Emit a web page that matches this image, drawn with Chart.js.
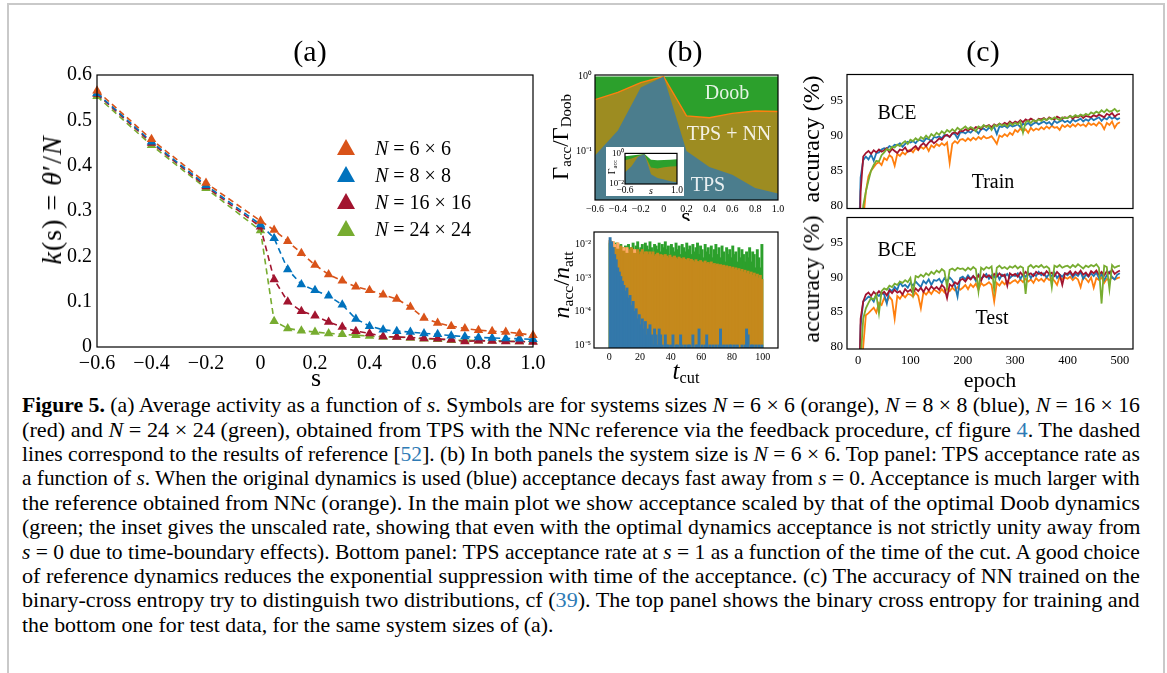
<!DOCTYPE html>
<html>
<head>
<meta charset="utf-8">
<script src="https://cdn.jsdelivr.net/npm/chart.js@4.4.1/dist/chart.umd.min.js"></script>
<style>
body { margin:0; background:#fff; width:1167px; height:673px; overflow:hidden; position:relative; font-family:'Liberation Serif', serif; }
#frame { position:absolute; left:7px; top:3px; width:1154px; height:700px; border:2px solid #c9c9c9; }
canvas { position:absolute; }
.t { position:absolute; white-space:nowrap; color:#000; line-height:1; transform:translate(-50%,-50%); }
.rot { transform:translate(-50%,-50%) rotate(-90deg); }
.w { color:rgba(255,255,255,0.88); }
.tri { position:absolute; width:0; height:0; border-left:9px solid transparent; border-right:9px solid transparent; border-bottom:16px solid; }
.leg { position:absolute; left:375px; font-size:20px; line-height:1; transform:translateY(-50%); white-space:nowrap; }
.cap { position:absolute; left:22px; font-size:21px; line-height:24px; white-space:nowrap; transform-origin:0 50%; }
.cap a { color:#2e7bb5; text-decoration:none; }
sub { font-size:65%; vertical-align:-0.25em; line-height:0; }
</style>
</head>
<body>
<div id="frame"></div>

<canvas id="chartA"></canvas>
<canvas id="chartB1"></canvas>
<div class="t" style="left:686px;top:216px;font-size:24px;">s</div>
<div style="position:absolute;left:594px;top:221px;width:185px;height:8px;background:#fff;"></div>
<canvas id="chartB2"></canvas>
<div style="position:absolute;left:606px;top:147px;width:78px;height:49px;background:#fff;"></div>
<canvas id="chartInset"></canvas>
<canvas id="chartC1"></canvas>
<canvas id="chartC2"></canvas>

<!-- panel titles and axis labels -->
<div class="t" style="left:310px;top:51px;font-size:30px;">(a)</div>
<div class="t" style="left:685px;top:51px;font-size:30px;">(b)</div>
<div class="t" style="left:983px;top:51px;font-size:30px;">(c)</div>

<div class="t rot" style="left:52px;top:200px;font-size:28px;letter-spacing:1px;"><i>k</i>(s) = <i>θ</i>′/<i>N</i></div>
<div class="t" style="left:316px;top:378px;font-size:26px;">s</div>

<div class="tri" style="left:337px;top:139px;border-bottom-color:#D95319;"></div>
<div class="tri" style="left:337px;top:166px;border-bottom-color:#0072BD;"></div>
<div class="tri" style="left:337px;top:193px;border-bottom-color:#A2142F;"></div>
<div class="tri" style="left:337px;top:220px;border-bottom-color:#77AC30;"></div>
<div class="leg" style="top:148px;"><i>N</i> = 6 × 6</div>
<div class="leg" style="top:175px;"><i>N</i> = 8 × 8</div>
<div class="leg" style="top:202px;"><i>N</i> = 16 × 16</div>
<div class="leg" style="top:229px;"><i>N</i> = 24 × 24</div>

<div class="t rot" style="left:560px;top:137px;font-size:23px;">Γ<sub>acc</sub>/Γ<sub>Doob</sub></div>
<div class="t w" style="left:727px;top:92px;font-size:20px;">Doob</div>
<div class="t w" style="left:729px;top:133px;font-size:20px;">TPS + NN</div>
<div class="t w" style="left:708px;top:184px;font-size:20px;">TPS</div>
<div class="t rot" style="left:612px;top:167px;font-size:10px;">Γ<sub>acc</sub></div>
<div class="t" style="left:651px;top:191px;font-size:10px;"><i>s</i></div>
<div class="t rot" style="left:561px;top:285px;font-size:24px;"><i>n</i><sub>acc</sub>/<i>n</i><sub>att</sub></div>
<div class="t" style="left:686px;top:370px;font-size:25px;"><i>t</i><sub>cut</sub></div>

<div class="t rot" style="left:811px;top:139px;font-size:24px;">accuracy (%)</div>
<div class="t rot" style="left:811px;top:279px;font-size:24px;">accuracy (%)</div>
<div class="t" style="left:897px;top:112px;font-size:20px;">BCE</div>
<div class="t" style="left:993px;top:181px;font-size:20px;">Train</div>
<div class="t" style="left:897px;top:249px;font-size:20px;">BCE</div>
<div class="t" style="left:992px;top:317px;font-size:20px;">Test</div>
<div class="t" style="left:990px;top:380px;font-size:22px;">epoch</div>

<!-- caption, one div per printed line -->
<div class="cap" style="top:393px;"><b>Figure 5.</b> (a) Average activity as a function of <i>s</i>. Symbols are for systems sizes <i>N</i> = 6 × 6 (orange), <i>N</i> = 8 × 8 (blue), <i>N</i> = 16 × 16</div>
<div class="cap" style="top:418px;">(red) and <i>N</i> = 24 × 24 (green), obtained from TPS with the NNc reference via the feedback procedure, cf figure <a>4</a>. The dashed</div>
<div class="cap" style="top:442px;">lines correspond to the results of reference [<a>52</a>]. (b) In both panels the system size is <i>N</i> = 6 × 6. Top panel: TPS acceptance rate as</div>
<div class="cap" style="top:466px;">a function of <i>s</i>. When the original dynamics is used (blue) acceptance decays fast away from <i>s</i> = 0. Acceptance is much larger with</div>
<div class="cap" style="top:491px;">the reference obtained from NNc (orange). In the main plot we show acceptance scaled by that of the optimal Doob dynamics</div>
<div class="cap" style="top:515px;">(green; the inset gives the unscaled rate, showing that even with the optimal dynamics acceptance is not strictly unity away from</div>
<div class="cap" style="top:540px;"><i>s</i> = 0 due to time-boundary effects). Bottom panel: TPS acceptance rate at <i>s</i> = 1 as a function of the time of the cut. A good choice</div>
<div class="cap" style="top:564px;">of reference dynamics reduces the exponential suppression with time of the acceptance. (c) The accuracy of NN trained on the</div>
<div class="cap" style="top:588px;">binary-cross entropy try to distinguish two distributions, cf (<a>39</a>). The top panel shows the binary cross entropy for training and</div>
<div class="cap last" style="top:613px;">the bottom one for test data, for the same system sizes of (a).</div>

<script>
// ---- panel (a): activity k(s) ----
const S_A = [-0.6,-0.4,-0.2,0,0.05,0.1,0.15,0.2,0.25,0.3,0.35,0.4,0.45,0.5,0.55,0.6,0.65,0.7,0.75,0.8,0.85,0.9,0.95,1.0];
const K_6 = [0.565,0.458,0.362,0.278,0.258,0.233,0.207,0.181,0.160,0.146,0.133,0.125,0.115,0.106,0.088,0.064,0.053,0.046,0.041,0.037,0.035,0.033,0.030,0.026];
const K_8 = [0.560,0.453,0.357,0.270,0.240,0.171,0.138,0.125,0.113,0.093,0.062,0.046,0.038,0.035,0.033,0.030,0.028,0.025,0.023,0.021,0.020,0.019,0.018,0.017];
const K_16 = [0.558,0.450,0.354,0.265,0.149,0.100,0.079,0.069,0.055,0.044,0.035,0.030,0.023,0.022,0.021,0.019,0.018,0.016,0.012,0.014,0.013,0.012,0.012,0.011];
const K_24 = [0.553,0.445,0.350,0.257,0.057,0.041,0.036,0.033,0.030,0.028,0.026,0.024,0.022,0.022,0.020,0.018,0.017,0.015,0.015,0.014,0.014,0.013,0.012,0.012];
const A_XTICKS = [-0.6,-0.4,-0.2,0,0.2,0.4,0.6,0.8,1.0];
const A_YTICKS = [0,0.1,0.2,0.3,0.4,0.5,0.6];

// ---- panel (b) top: acceptance ratio vs s ----
const S_B = [-0.6,-0.4,-0.2,0,0.2,0.4,0.6,0.8,1.0];
const R_DOOB = [1,1,1,1,1,1,1,1,1];
const R_NN = [0.49,0.615,0.83,1.0,0.296,0.28,0.32,0.345,0.34];
const R_TPS = [0.087,0.188,0.716,1.0,0.10,0.061,0.048,0.032,0.027];
// inset: unscaled acceptance
const G_DOOB = [0.72,0.80,0.90,1.0,0.42,0.38,0.40,0.42,0.44];
const G_NN = [0.38,0.50,0.75,1.0,0.125,0.11,0.13,0.145,0.15];
const G_TPS = [0.06,0.15,0.65,1.0,0.045,0.025,0.02,0.015,0.013];
const B_XTICKS = [-0.6,-0.4,-0.2,0,0.2,0.4,0.6,0.8,1.0];

// ---- panel (b) bottom: acceptance vs t_cut ----
const T_CUT = [0,1,2,3,4,5,6,7,8,9,10,11,12,13,14,15,16,17,18,19,20,21,22,23,24,25,26,27,28,29,
  30,31,32,33,34,35,36,37,38,39,40,41,42,43,44,45,46,47,48,49,50,51,52,53,54,55,56,57,58,59,
  60,61,62,63,64,65,66,67,68,69,70,71,72,73,74,75,76,77,78,79,80,81,82,83,84,85,86,87,88,89,
  90,91,92,93,94,95,96,97,98,99];
const H_DOOB = [
  0.011,0.012,0.010,0.009,0.011,0.008,0.009,0.010,0.008,0.007,
  0.009,0.006,0.010,0.007,0.008,0.011,0.006,0.009,0.012,0.007,
  0.008,0.010,0.006,0.011,0.009,0.007,0.012,0.008,0.006,0.010,
  0.009,0.007,0.011,0.006,0.010,0.008,0.012,0.007,0.009,0.005,
  0.010,0.008,0.006,0.011,0.007,0.009,0.005,0.010,0.008,0.006,
  0.011,0.007,0.009,0.005,0.010,0.006,0.008,0.011,0.005,0.009,
  0.007,0.004,0.010,0.006,0.008,0.005,0.009,0.004,0.007,0.010,
  0.005,0.008,0.004,0.009,0.006,0.003,0.008,0.005,0.007,0.004,
  0.009,0.005,0.006,0.003,0.008,0.004,0.007,0.005,0.003,0.006,
  0.004,0.008,0.003,0.006,0.005,0.002,0.007,0.004,0.002,0.010];
const H_NN = [
  0.013,0.011,0.012,0.010,0.009,0.011,0.008,0.009,0.007,0.008,
  0.007,0.008,0.006,0.007,0.008,0.006,0.007,0.006,0.007,0.005,
  0.006,0.007,0.005,0.006,0.006,0.005,0.006,0.005,0.006,0.0045,
  0.005,0.0055,0.0045,0.005,0.0048,0.0042,0.005,0.0045,0.004,0.0048,
  0.0042,0.0038,0.0045,0.004,0.0036,0.0042,0.0038,0.0035,0.004,0.0036,
  0.0034,0.0038,0.0032,0.0036,0.0033,0.003,0.0035,0.0031,0.0029,0.0033,
  0.003,0.0028,0.0032,0.0027,0.0029,0.0026,0.003,0.0025,0.0027,0.0024,
  0.0026,0.0023,0.0025,0.0022,0.0024,0.0021,0.0023,0.002,0.0022,0.0019,
  0.0021,0.0018,0.002,0.0017,0.0019,0.0016,0.0018,0.0015,0.0017,0.0014,
  0.0016,0.0013,0.0015,0.0012,0.0014,0.0011,0.0013,0.001,0.0012,0.0009];
const H_TPS = [
  0.016,0.012,0.008,0.005,0.0035,0.002,0.0015,0.0011,0.0008,0.0006,
  0.0004,0.0005,0.00025,0.0003,0.00015,0.0002,0.0001,0.00012,0.00006,0.00008,
  0.00004,0.00006,0.00003,0.00005,0.00002,0.00003,0.00004,0.00002,0.00001,0.00003,
  0.00002,0.00001,0.00003,0.00002,0.00001,null,0.00002,0.00001,0.00001,null,
  0.00001,0.00002,null,0.00001,0.00001,null,0.00002,0.00001,null,0.00001,
  null,0.00001,0.00001,null,0.00002,null,0.00001,0.00001,0.00003,null,
  0.00001,null,0.00001,0.00002,null,0.00001,null,0.00001,null,0.00001,
  null,0.00001,0.00003,null,0.00001,null,0.00001,null,0.00001,0.00001,
  null,0.00001,null,0.00001,null,null,0.00001,null,0.00001,0.00003,
  0.00002,null,0.00001,0.00001,null,0.00001,null,0.00001,null,0.00001];
const H_YTICKS = [1e-5,1e-4,1e-3,1e-2];
const H_XTICKS = [0,20,40,60,80,100];

// ---- panel (c): accuracy vs epoch ----
const EPOCHS = [0,5,10,15,20,25,30,35,40,45,50,55,60,65,70,75,80,85,90,95,
  100,105,110,115,120,125,130,135,140,145,150,155,160,165,170,175,180,185,190,195,
  200,205,210,215,220,225,230,235,240,245,250,255,260,265,270,275,280,285,290,295,
  300,305,310,315,320,325,330,335,340,345,350,355,360,365,370,375,380,385,390,395,
  400,405,410,415,420,425,430,435,440,445,450,455,460,465,470,475,480,485,490,495,500];
const TRAIN_8 = [
  70,84,86.5,87.0,86.6,87.3,86.4,87.5,87.6,88.0,
  88.2,88.1,88.5,88.3,88.7,88.6,88.9,88.4,88.8,89.1,
  89.0,89.2,88.9,89.4,89.3,89.1,89.6,89.5,89.2,89.8,
  89.7,89.9,89.6,90.1,90.0,89.8,90.3,90.2,89.6,90.4,
  90.5,90.3,90.6,90.4,90.8,90.7,90.3,90.9,91.0,90.7,
  91.1,91.0,91.2,90.2,91.3,91.2,91.4,91.1,91.5,91.3,
  91.4,91.6,91.2,91.7,91.5,91.8,91.4,91.7,91.9,91.6,
  91.8,92.0,91.7,91.9,91.5,92.1,91.8,92.0,92.2,91.9,
  92.1,91.8,92.3,92.0,92.2,92.4,92.0,92.3,92.1,92.5,
  92.2,92.4,92.6,92.1,92.5,92.3,92.7,92.4,92.6,92.3,92.5];
const TRAIN_16 = [
  65,82,87.0,87.5,87.8,87.4,87.9,87.6,88.0,87.7,
  87.9,88.2,87.6,88.1,87.8,87.5,88.0,87.9,88.3,87.7,
  87.8,88.2,88.5,88.0,88.6,88.9,88.5,89.0,89.3,88.9,
  89.2,89.6,89.4,89.9,90.1,89.8,90.3,90.5,90.2,90.7,
  90.6,90.9,90.7,91.0,90.8,91.2,91.1,90.9,91.4,91.3,
  91.5,91.2,91.6,91.4,91.7,91.5,91.8,91.6,92.0,91.7,
  92.0,91.8,92.2,91.9,92.3,92.1,92.4,92.2,92.0,92.4,
  92.3,92.5,92.2,92.6,92.4,92.3,92.7,92.5,92.4,92.6,
  92.5,92.8,92.4,92.7,92.6,92.9,92.5,92.8,92.7,92.6,
  92.9,92.7,93.0,92.8,92.6,93.1,92.9,93.2,92.7,93.0,93.1];
const TRAIN_24 = [
  60,72,80.0,82.0,83.6,85.0,85.8,86.4,86.3,87.2,
  87.6,88.1,87.9,88.4,88.3,88.7,88.5,88.9,89.2,88.8,
  89.4,89.2,89.6,89.3,89.8,89.5,90.0,89.6,90.2,89.9,
  90.4,90.1,90.6,90.3,90.8,90.5,90.9,90.6,91.1,90.8,
  91.0,91.3,90.9,91.2,91.0,90.6,91.3,91.1,91.5,91.2,
  91.4,90.8,91.5,91.3,91.7,91.4,91.6,91.3,91.8,91.5,
  91.8,91.6,92.0,90.4,91.9,92.1,91.8,92.2,92.0,92.3,
  92.1,92.4,92.2,92.5,92.3,92.6,92.4,92.2,92.6,92.5,
  92.5,92.8,92.6,92.9,92.7,93.0,92.8,93.1,92.9,93.3,
  93.1,93.4,93.2,93.6,93.3,93.7,93.4,93.5,93.8,93.4,93.6];
const TRAIN_6 = [
  60,70,78.0,82.0,84.2,85.0,85.5,86.0,86.2,85.8,
  86.8,86.5,87.2,86.9,85.7,87.4,87.1,87.6,87.3,87.8,
  88.0,87.6,88.2,87.9,88.4,88.1,88.5,87.8,88.6,88.3,
  88.8,88.5,88.9,88.6,89.0,86.1,88.8,89.2,88.9,89.4,
  89.5,89.2,89.6,89.3,89.7,89.4,89.8,89.5,89.9,89.6,
  89.7,89.9,89.4,88.8,90.0,89.8,90.2,89.9,90.4,90.1,
  90.8,90.5,91.0,90.6,90.9,90.4,91.1,90.7,91.0,90.8,
  91.2,90.9,91.3,91.0,91.4,91.1,91.2,90.8,91.5,91.2,
  91.5,91.2,91.6,91.3,91.7,91.4,91.6,91.3,91.8,91.5,
  91.7,91.4,91.9,91.6,90.9,91.8,91.5,92.0,91.1,91.7,91.9];
const TEST_8 = [
  70,83,86.5,86.8,87.2,87.0,86.5,87.6,87.3,87.8,
  87.5,86.2,88.3,88.0,88.6,88.2,89.3,88.7,88.9,88.5,
  89.2,88.8,89.4,89.0,88.6,89.5,89.1,89.7,88.9,89.6,
  89.5,89.8,89.2,89.9,89.4,90.0,89.6,88.8,87.2,89.9,
  90.1,89.7,90.3,89.8,90.2,89.5,90.4,89.9,90.1,90.5,
  89.8,90.3,90.0,90.6,89.7,90.4,90.1,90.5,89.9,90.3,
  90.2,90.6,89.8,90.4,90.1,90.7,89.9,90.5,90.2,90.8,
  90.3,90.6,90.0,90.5,90.2,90.7,89.9,90.4,90.1,90.6,
  90.3,90.7,90.0,90.5,90.2,90.8,89.8,90.4,90.1,90.6,
  90.2,90.7,89.9,90.5,89.6,90.3,90.8,90.0,89.7,90.4,90.6];
const TEST_16 = [
  65,84,86.5,87.5,87.8,87.3,87.9,87.5,88.0,87.6,
  87.9,87.4,88.1,87.7,88.2,87.8,88.0,87.5,88.3,87.9,
  88.2,87.7,88.4,88.0,88.5,87.9,88.6,88.1,88.7,88.3,
  88.6,88.2,88.9,88.5,87.0,89.0,88.7,89.3,89.0,89.6,
  89.8,89.4,90.0,89.7,90.2,89.8,90.3,89.5,90.4,90.0,
  90.3,89.9,90.5,90.1,90.6,90.2,90.4,88.8,90.6,90.3,
  90.5,90.1,90.7,90.3,90.8,90.4,90.6,90.2,90.8,90.5,
  90.7,90.3,90.9,90.5,90.7,90.2,90.8,90.4,88.9,90.6,
  90.5,90.9,90.3,90.8,90.5,91.0,90.4,90.7,90.2,90.9,
  90.6,91.0,90.4,90.8,90.3,90.9,90.6,91.1,90.5,90.8,91.0];
const TEST_24 = [
  60,78,84.0,85.5,86.3,87.0,86.8,87.5,84.8,88.0,
  88.4,88.2,88.8,88.6,89.1,88.9,89.4,89.2,89.6,89.3,
  89.9,87.6,90.2,90.0,90.4,90.1,90.6,90.3,90.8,90.5,
  91.0,90.7,91.2,90.9,88.6,91.1,91.3,91.0,91.4,91.2,
  91.3,91.0,91.4,91.1,91.5,91.2,88.0,91.4,91.1,91.5,
  91.3,91.6,88.2,91.4,91.7,91.3,91.5,91.2,91.6,91.4,
  91.7,91.3,91.6,91.4,87.6,91.5,91.8,91.4,91.7,91.5,
  91.8,91.4,91.6,91.3,88.6,91.7,91.5,91.8,91.4,91.6,
  91.7,91.4,91.8,91.5,91.9,91.6,91.3,91.7,91.5,91.8,
  91.6,91.9,91.4,86.2,91.7,91.5,88.3,91.8,91.4,91.6,91.7];
const TEST_6 = [
  60,72,80.0,84.5,84.8,85.2,85.6,84.9,86.3,86.0,
  87.0,86.4,87.2,86.7,84.0,87.3,86.9,87.5,87.1,87.6,
  87.5,87.2,87.8,87.3,85.5,87.9,87.5,88.0,87.6,88.2,
  88.0,87.7,88.3,87.8,88.4,88.0,88.5,88.1,88.6,88.2,
  88.5,88.9,88.3,89.0,88.6,89.1,88.2,89.2,88.8,89.0,
  89.3,88.9,86.5,89.2,88.8,89.4,89.0,89.5,89.1,89.4,
  89.6,89.2,89.7,89.3,89.8,89.4,89.7,89.2,89.9,89.5,
  89.8,89.4,90.0,89.6,89.9,89.5,88.9,90.1,89.7,90.0,
  89.8,90.1,89.6,90.0,89.7,88.6,90.1,89.8,89.3,90.0,
  88.5,89.9,89.6,90.0,89.2,89.8,89.5,90.1,89.7,89.9,90.0];
const C_XTICKS = [0,100,200,300,400,500];
const C_YTICKS = [80,85,90,95];

// colours
const ORANGE_A = '#D95319', BLUE_A = '#0072BD', RED_A = '#A2142F', GREEN_A = '#77AC30';
const ORANGE_C = '#FF7F0E', BLUE_C = '#1F77B4';

Chart.defaults.font.family = "'Liberation Serif', serif";
Chart.defaults.color = '#000';

// squeeze each caption line to the printed column width
(function fitCaption() {
    const lines = document.querySelectorAll('.cap');
    const target = 1118;
    let sum = 0, n = 0;
    lines.forEach(el => {
        if (el.classList.contains('last')) return;
        const k = target / el.scrollWidth;
        el.style.transform = 'scaleX(' + k + ')';
        sum += k; n++;
    });
    const last = document.querySelector('.cap.last');
    last.style.transform = 'scaleX(' + (sum / n) + ')';
})();

const framePlugin = {
    id: 'frame',
    afterDatasetsDraw(chart) {
        const a = chart.chartArea, c = chart.ctx;
        c.save();
        c.strokeStyle = '#000';
        c.lineWidth = 1.2;
        c.strokeRect(a.left, a.top, a.right - a.left, a.bottom - a.top);
        c.restore();
    }
};

function pts(xs, ys) {
    return ys.map((y, i) => ({x: xs[i], y: y}));
}

function minusFmt(v, digits) {
    if (Math.abs(v) < 1e-9) return '0';
    return (v < 0 ? '\u2212' : '') + Math.abs(v).toFixed(digits);
}

function powFmt(v) {
    const sup = {'-':'\u207B','0':'\u2070','1':'\u00B9','2':'\u00B2','3':'\u00B3','4':'\u2074','5':'\u2075'};
    const e = String(Math.round(Math.log10(v)));
    return '10' + e.split('').map(ch => sup[ch]).join('');
}

// box = plot area in page pixels, m = room for axes and padding
function makeChart(id, box, m, type, datasets, xOpt, yOpt) {
    const cv = document.getElementById(id);
    const w = m.yw + box.r - box.l + m.pr;
    const h = m.pt + box.b - box.t + m.xh;
    cv.width = w; cv.height = h;
    cv.style.left = (box.l - m.yw) + 'px';
    cv.style.top = (box.t - m.pt) + 'px';
    cv.style.width = w + 'px';
    cv.style.height = h + 'px';
    xOpt.afterFit = (s) => { s.height = m.xh; };
    yOpt.afterFit = (s) => { s.width = m.yw; };
    xOpt.grid = {display: false, drawTicks: false};
    yOpt.grid = {display: false, drawTicks: false};
    xOpt.border = {display: false};
    yOpt.border = {display: false};
    return new Chart(cv, {
        type: type,
        data: {datasets: datasets},
        options: {
            responsive: false,
            animation: false,
            devicePixelRatio: 1,
            layout: {padding: {top: m.pt, right: m.pr, left: 0, bottom: 0}},
            plugins: {legend: {display: false}, tooltip: {enabled: false}},
            scales: {x: xOpt, y: yOpt}
        },
        plugins: [framePlugin]
    });
}

function fixedTicks(list) {
    return (s) => { s.ticks = list.map(v => ({value: v})); };
}

// ---- (a)
function seriesA(ys, col) {
    return {
        data: pts(S_A, ys), borderColor: col, backgroundColor: col,
        borderWidth: 1.6, borderDash: [6, 4], pointStyle: 'triangle',
        pointRadius: 5.5, pointBorderWidth: 0, tension: 0, clip: false
    };
}
makeChart('chartA', {l: 97, t: 70, r: 533, b: 347}, {yw: 40, xh: 36, pt: 12, pr: 22}, 'line',
    [seriesA(K_6, ORANGE_A), seriesA(K_8, BLUE_A), seriesA(K_16, RED_A), seriesA(K_24, GREEN_A)],
    {type: 'linear', min: -0.6, max: 1.0, afterBuildTicks: fixedTicks(A_XTICKS),
     ticks: {font: {size: 20}, padding: 5, maxRotation: 0, autoSkip: false, callback: v => minusFmt(v, 1)}},
    {type: 'linear', min: 0, max: 0.6, afterBuildTicks: fixedTicks(A_YTICKS),
     ticks: {font: {size: 20}, padding: 5, callback: v => minusFmt(v, 1)}});

// ---- (b) top
function area(xs, ys, col, line) {
    return {
        data: pts(xs, ys), fill: 'start', backgroundColor: col,
        borderColor: line || col, borderWidth: line ? 1.4 : 0, pointRadius: 0, tension: 0
    };
}
const DOOB_COL = '#2ca02c', NN_COL = '#9d8c21', TPS_COL = '#4b7d8d';
makeChart('chartB1', {l: 595, t: 74, r: 778, b: 200}, {yw: 26, xh: 16, pt: 8, pr: 12}, 'line',
    [area(S_B, R_TPS, TPS_COL), area(S_B, R_NN, NN_COL, ORANGE_C), area(S_B, R_DOOB, DOOB_COL)],
    {type: 'linear', min: -0.6, max: 1.0, afterBuildTicks: fixedTicks(B_XTICKS),
     ticks: {font: {size: 10}, padding: 3, maxRotation: 0, autoSkip: false, callback: v => minusFmt(v, 1)}},
    {type: 'logarithmic', min: 0.022, max: 1.05, afterBuildTicks: fixedTicks([0.1, 1]),
     ticks: {font: {size: 10}, padding: 3, callback: v => powFmt(v)}});

// inset
makeChart('chartInset', {l: 625, t: 151, r: 677, b: 184}, {yw: 18, xh: 11, pt: 4, pr: 8}, 'line',
    [area(S_B, G_TPS, TPS_COL), area(S_B, G_NN, NN_COL), area(S_B, G_DOOB, DOOB_COL)],
    {type: 'linear', min: -0.6, max: 1.0, afterBuildTicks: fixedTicks([-0.6, 1.0]),
     ticks: {font: {size: 9.5}, padding: 1, maxRotation: 0, autoSkip: false, callback: v => minusFmt(v, 1)}},
    {type: 'logarithmic', min: 0.01, max: 1.1, afterBuildTicks: fixedTicks([0.01, 1]),
     ticks: {font: {size: 9}, padding: 1, callback: v => powFmt(v)}});

// ---- (b) bottom: opaque bars, orange over green shows darker,
// orange rising above green shows light
function bars(ys, col) {
    return {
        data: ys.map((y, i) => ({x: T_CUT[i] + 0.5, y: y})),
        backgroundColor: col, borderWidth: 0, grouped: false, inflateAmount: 0.7,
        barPercentage: 1, categoryPercentage: 1
    };
}
const NN_ABOVE = H_NN.map((o, i) => (o > H_DOOB[i] ? [H_DOOB[i], o] : null));
makeChart('chartB2', {l: 594, t: 229, r: 778, b: 348}, {yw: 30, xh: 16, pt: 6, pr: 12}, 'bar',
    [bars(H_TPS, '#3378aa'), bars(NN_ABOVE, '#ffaa66'), bars(H_NN, '#c5891c'), bars(H_DOOB, DOOB_COL)],
    {type: 'linear', min: 0, max: 100, afterBuildTicks: fixedTicks(H_XTICKS),
     ticks: {font: {size: 10}, padding: 3, maxRotation: 0, autoSkip: false}},
    {type: 'logarithmic', min: 8.3e-6, max: 0.024, afterBuildTicks: fixedTicks(H_YTICKS),
     ticks: {font: {size: 10}, padding: 3, callback: v => powFmt(v)}});

// ---- (c)
function lineC(ys, col) {
    return {data: pts(EPOCHS, ys), borderColor: col, borderWidth: 1.8, pointRadius: 0, tension: 0, fill: false};
}
makeChart('chartC1', {l: 847, t: 71, r: 1133, b: 210}, {yw: 40, xh: 10, pt: 8, pr: 10}, 'line',
    [lineC(TRAIN_24, GREEN_A), lineC(TRAIN_16, RED_A), lineC(TRAIN_8, BLUE_C), lineC(TRAIN_6, ORANGE_C)],
    {type: 'linear', min: -21, max: 525, ticks: {display: false}},
    {type: 'linear', min: 79.6, max: 98.7, afterBuildTicks: fixedTicks(C_YTICKS),
     ticks: {font: {size: 12.5}, padding: 4}});
makeChart('chartC2', {l: 847, t: 210, r: 1133, b: 349}, {yw: 40, xh: 24, pt: 4, pr: 14}, 'line',
    [lineC(TEST_24, GREEN_A), lineC(TEST_16, RED_A), lineC(TEST_8, BLUE_C), lineC(TEST_6, ORANGE_C)],
    {type: 'linear', min: -21, max: 525, afterBuildTicks: fixedTicks(C_XTICKS),
     ticks: {font: {size: 12.5}, padding: 4, maxRotation: 0, autoSkip: false}},
    {type: 'linear', min: 79.6, max: 98.7, afterBuildTicks: fixedTicks(C_YTICKS),
     ticks: {font: {size: 12.5}, padding: 4}});
</script>
</body>
</html>
